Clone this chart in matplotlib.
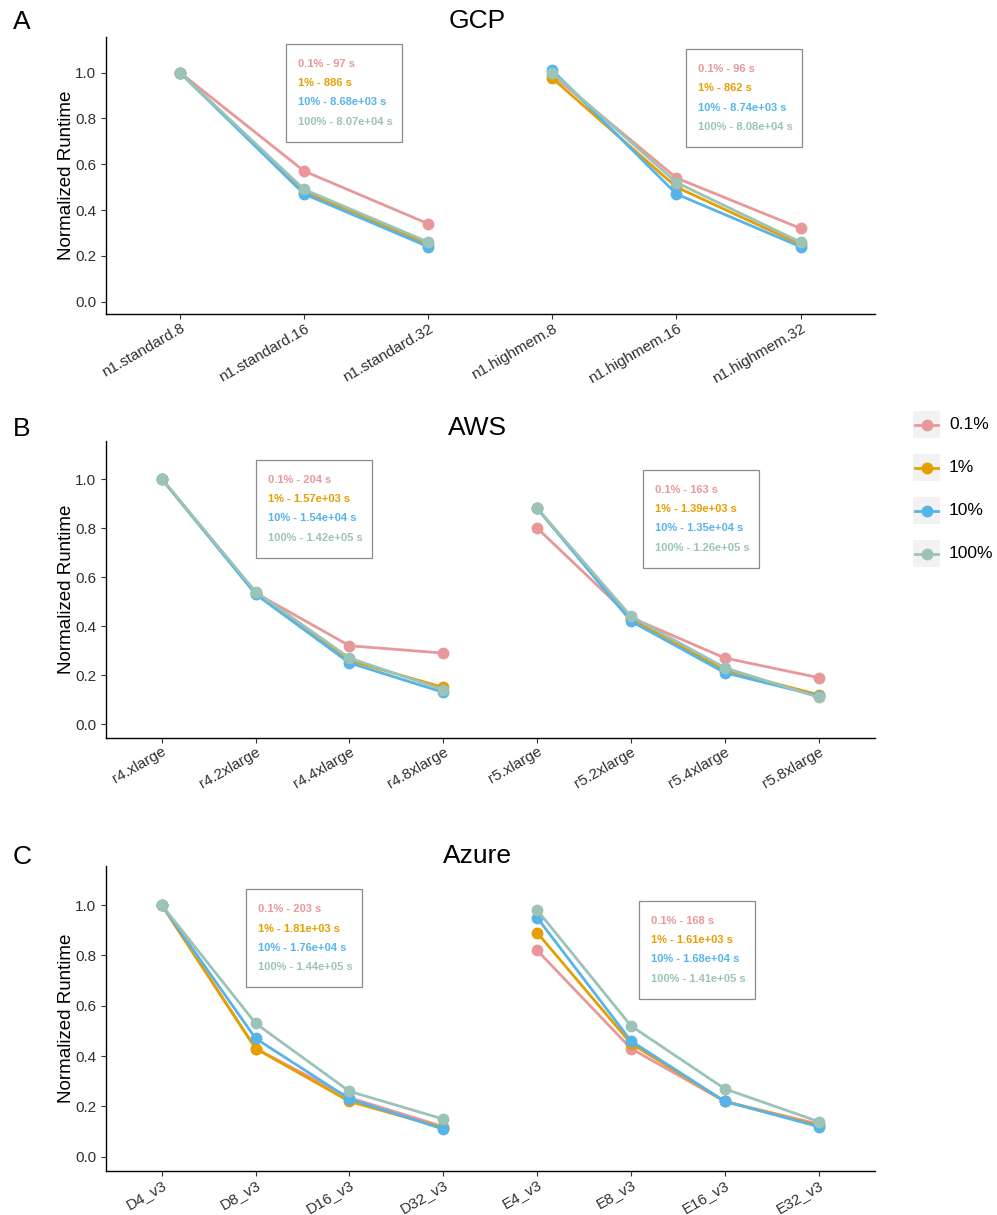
import numpy as np
import matplotlib
matplotlib.use("Agg")
import matplotlib.pyplot as plt
from matplotlib.patches import Rectangle
from matplotlib.lines import Line2D
from matplotlib.transforms import Affine2D, ScaledTranslation

plt.rcParams['font.family'] = ['Liberation Sans', 'DejaVu Sans']

W, H = 997, 1215

# ---- data ----
pct_labels = ['0.1%', '1%', '10%', '100%']
colors = ['#E8989A', '#E69F00', '#56B4E9', '#9BC3B8']

gcp_types = ['n1.standard.8', 'n1.standard.16', 'n1.standard.32',
             'n1.highmem.8', 'n1.highmem.16', 'n1.highmem.32']
gcp_p01 = [1.0, 0.57, 0.34, 0.99, 0.54, 0.32]
gcp_p1 = [1.0, 0.48, 0.25, 0.975, 0.50, 0.25]
gcp_p10 = [1.0, 0.47, 0.24, 1.01, 0.47, 0.24]
gcp_p100 = [1.0, 0.49, 0.26, 1.0, 0.52, 0.26]
gcp_notes_1 = ['0.1% - 97 s', '1% - 886 s', '10% - 8.68e+03 s', '100% - 8.07e+04 s']
gcp_notes_2 = ['0.1% - 96 s', '1% - 862 s', '10% - 8.74e+03 s', '100% - 8.08e+04 s']

aws_types = ['r4.xlarge', 'r4.2xlarge', 'r4.4xlarge', 'r4.8xlarge',
             'r5.xlarge', 'r5.2xlarge', 'r5.4xlarge', 'r5.8xlarge']
aws_p01 = [1.0, 0.535, 0.32, 0.29, 0.80, 0.435, 0.27, 0.19]
aws_p1 = [1.0, 0.535, 0.26, 0.15, 0.88, 0.43, 0.22, 0.12]
aws_p10 = [1.0, 0.53, 0.25, 0.13, 0.88, 0.42, 0.21, 0.115]
aws_p100 = [1.0, 0.54, 0.27, 0.14, 0.88, 0.44, 0.23, 0.11]
aws_notes_1 = ['0.1% - 204 s', '1% - 1.57e+03 s', '10% - 1.54e+04 s', '100% - 1.42e+05 s']
aws_notes_2 = ['0.1% - 163 s', '1% - 1.39e+03 s', '10% - 1.35e+04 s', '100% - 1.26e+05 s']

azure_types = ['D4_v3', 'D8_v3', 'D16_v3', 'D32_v3',
               'E4_v3', 'E8_v3', 'E16_v3', 'E32_v3']
azure_p01 = [1.0, 0.43, 0.235, 0.12, 0.82, 0.43, 0.22, 0.13]
azure_p1 = [1.0, 0.43, 0.22, 0.115, 0.89, 0.45, 0.22, 0.125]
azure_p10 = [1.0, 0.47, 0.23, 0.11, 0.95, 0.46, 0.22, 0.12]
azure_p100 = [1.0, 0.53, 0.26, 0.15, 0.98, 0.52, 0.27, 0.14]
azure_notes_1 = ['0.1% - 203 s', '1% - 1.81e+03 s', '10% - 1.76e+04 s', '100% - 1.44e+05 s']
azure_notes_2 = ['0.1% - 168 s', '1% - 1.61e+03 s', '10% - 1.68e+04 s', '100% - 1.41e+05 s']

fig = plt.figure(figsize=(W / 100, H / 100), dpi=100)


def px_axes(left, top, right, bottom):
    return fig.add_axes([left / W, 1 - bottom / H, (right - left) / W, (bottom - top) / H])


def note_box(ax, x, y, lines):
    # box anchored at data point (top-left), sizes in pixels
    tr = Affine2D() + ScaledTranslation(x, y, ax.transData)
    ax.add_patch(Rectangle((0, -98), 116, 98, transform=tr, fill=False,
                           ec='#8a8a8a', lw=0.9, clip_on=False, zorder=5))
    for i, (s, c) in enumerate(zip(lines, colors)):
        ax.text(12, -20 - 19.3 * i, s, transform=tr, color=c, fontsize=8,
                fontweight='bold', va='center', ha='left', zorder=6)


def panel(top, bottom, types, series, notes1, notes2, box1, box2, title, letter, title_y):
    ax = px_axes(105.5, top, 875, bottom)
    n = len(types)
    half = n // 2
    x = np.arange(1, n + 1)
    for vals, c in zip(series, colors):
        vals = np.array(vals)
        for sl in (slice(0, half), slice(half, n)):
            ax.plot(x[sl], vals[sl], '-o', color=c, lw=2.0, ms=7.5,
                    solid_capstyle='round')
    ax.set_xlim(0.4, n + 0.6)
    ax.set_ylim(-0.055, 1.155)
    ax.set_yticks([0, 0.2, 0.4, 0.6, 0.8, 1.0])
    ax.set_yticklabels(['0.0', '0.2', '0.4', '0.6', '0.8', '1.0'])
    ax.set_xticks(x)
    ax.set_xticklabels(types, rotation=30, ha='right', va='top', rotation_mode='anchor')
    for s in ('top', 'right'):
        ax.spines[s].set_visible(False)
    for s in ('left', 'bottom'):
        ax.spines[s].set_linewidth(1.0)
    ax.tick_params(labelsize=11, length=3.5, width=0.8, color='#333333',
                   labelcolor='#303030', pad=3)
    ax.tick_params(axis='x', pad=1.5)
    ax.set_ylabel('Normalized Runtime', fontsize=13.5, labelpad=0)
    note_box(ax, box1[0], box1[1], notes1)
    note_box(ax, box2[0], box2[1], notes2)
    fig.text(477 / W, 1 - title_y / H, title, fontsize=19, ha='center', va='center')
    fig.text(22 / W, 1 - (title_y + 1) / H, letter, fontsize=19, ha='center', va='center')
    return ax


panel(37, 314.3, gcp_types, [gcp_p01, gcp_p1, gcp_p10, gcp_p100],
      gcp_notes_1, gcp_notes_2, (1.855, 1.125), (5.078, 1.102), 'GCP', 'A', 21)
panel(441, 737.7, aws_types, [aws_p01, aws_p1, aws_p10, aws_p100],
      aws_notes_1, aws_notes_2, (2.008, 1.079), (6.131, 1.038), 'AWS', 'B', 428)
panel(866, 1170.7, azure_types, [azure_p01, azure_p1, azure_p10, azure_p100],
      azure_notes_1, azure_notes_2, (1.901, 1.062), (6.082, 1.017), 'Azure', 'C', 856)

# legend (ggplot style keys with grey background)
for i, (lab, c) in enumerate(zip(pct_labels, colors)):
    cy = H - (424.5 + 43 * i)
    fig.patches.append(Rectangle((912.7, cy - 13.3), 27.3, 26.6, transform=None,
                                 fc='#F2F2F2', ec='none'))
    fig.lines.append(Line2D([915, 938], [cy, cy], transform=None, color=c, lw=2.0))
    fig.lines.append(Line2D([926.5], [cy], transform=None, color=c, marker='o',
                            ms=7.5, lw=0))
    fig.text(949 / W, cy / H, lab, fontsize=12.5, ha='left', va='center')

fig.savefig('out.png', dpi=100)
